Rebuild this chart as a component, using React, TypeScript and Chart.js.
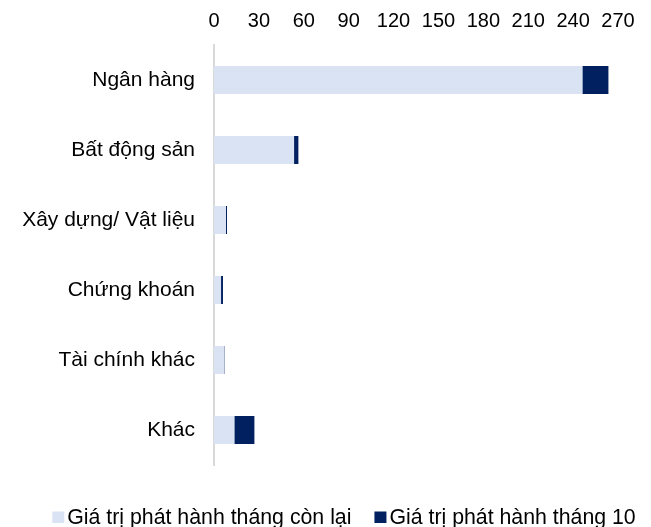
import React, { useEffect, useRef } from "react";
import { Chart, registerables } from "chart.js";

Chart.register(...registerables);

const categories = ["Ngân hàng", "Bất động sản", "Xây dựng/ Vật liệu", "Chứng khoán", "Tài chính khác", "Khác"];
const remainingValues = [246.2, 53.5, 8.0, 4.7, 6.9, 13.6];
const octoberValues = [17.4, 2.9, 0.7, 1.3, 0.3, 13.4];
const xTicks = [0, 30, 60, 90, 120, 150, 180, 210, 240, 270];
const seriesNames = ["Giá trị phát hành tháng còn lại", "Giá trị phát hành tháng 10"];
const seriesColors = ["#DAE3F3", "#002060"];

const FONT = "'Liberation Sans', Arial, sans-serif";

const bottomLegend = {
  id: "bottomLegend",
  afterDraw(chart: any) {
    const ctx = chart.ctx;
    ctx.save();
    ctx.font = `21.3px ${FONT}`;
    ctx.textBaseline = "alphabetic";
    ctx.textAlign = "left";
    const box = 12;
    const boxGap = 3;
    const itemGap = 23;
    const widths = chart.data.datasets.map(
      (ds: any) => box + boxGap + ctx.measureText(ds.label).width
    );
    const total = widths.reduce((a: number, b: number) => a + b, 0) + itemGap * (widths.length - 1);
    const center = 344;
    let x = center - total / 2;
    const baseline = 524;
    chart.data.datasets.forEach((ds: any, i: number) => {
      ctx.fillStyle = ds.backgroundColor;
      ctx.fillRect(x, 511.5, box, 11.5);
      ctx.fillStyle = "#000";
      ctx.fillText(ds.label, x + box + boxGap, baseline);
      x += widths[i] + itemGap;
    });
    ctx.restore();
  },
};

export default function App() {
  const ref = useRef<HTMLCanvasElement | null>(null);
  useEffect(() => {
    if (!ref.current) return;
    const chart = new Chart(ref.current, {
      type: "bar",
      data: {
        labels: categories,
        datasets: [
          {
            label: seriesNames[0],
            data: remainingValues,
            backgroundColor: seriesColors[0],
            borderWidth: 0,
            barPercentage: 0.4,
            categoryPercentage: 1,
          },
          {
            label: seriesNames[1],
            data: octoberValues,
            backgroundColor: seriesColors[1],
            borderWidth: 0,
            barPercentage: 0.4,
            categoryPercentage: 1,
          },
        ],
      },
      options: {
        indexAxis: "y",
        animation: false,
        responsive: true,
        maintainAspectRatio: false,
        layout: { padding: { left: 0, right: 33, top: 0, bottom: 62 } },
        scales: {
          x: {
            position: "top",
            stacked: true,
            min: 0,
            max: 270,
            afterBuildTicks: (scale: any) => {
              scale.ticks = xTicks.map((v) => ({ value: v }));
            },
            afterFit: (scale: any) => {
              scale.height = 45;
            },
            grid: { display: false, drawTicks: false },
            border: { display: false },
            ticks: {
              padding: 12,
              color: "#000",
              font: { family: FONT, size: 20 },
              maxRotation: 0,
              autoSkip: false,
            },
          },
          y: {
            stacked: true,
            afterFit: (scale: any) => {
              scale.width = 214;
            },
            grid: { display: false, drawTicks: false },
            border: { display: true, color: "#D9D9D9", width: 2 },
            ticks: {
              padding: 19,
              color: "#000",
              font: { family: FONT, size: 21 },
            },
          },
        },
        plugins: {
          legend: { display: false },
          tooltip: { enabled: false },
        },
      },
      plugins: [bottomLegend],
    });
    return () => chart.destroy();
  }, []);
  return (
    <div style={{ position: "fixed", left: 0, top: 0, width: 651, height: 527, background: "#fff" }}>
      <canvas ref={ref} />
    </div>
  );
}
